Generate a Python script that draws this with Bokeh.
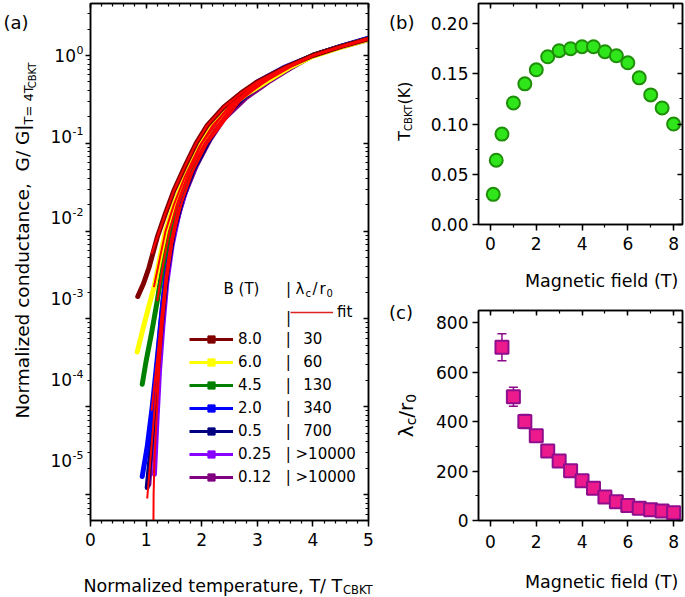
import math
from bokeh.plotting import figure
from bokeh.layouts import row, column
from bokeh.models import (Range1d, LinearAxis, LogAxis, FixedTicker, SingleIntervalTicker,
                          CustomJSTickFormatter, NumeralTickFormatter, Label, Legend, LegendItem)
from bokeh.embed import file_html
from bokeh.resources import INLINE

FONT = "DejaVu Sans"

# ---------------- Panel (a) data: normalized conductance vs T/T_CBKT ----------------
T_80 = [0.85, 0.95, 1.05, 1.2, 1.35, 1.5, 1.7, 1.9, 2.1, 2.4, 2.7, 3.0, 3.5, 4.0, 4.5, 5.0]
G_80 = [1.8e-3, 2.5e-3, 3.8e-3, 8.5e-3, 1.6e-2, 2.9e-2, 5.5e-2, 0.10, 0.16, 0.26, 0.37, 0.50, 0.73, 1.0, 1.26, 1.55]
T_60 = [0.84, 0.95, 1.05, 1.15, 1.25, 1.35, 1.5, 1.7, 1.95, 2.2, 2.5, 2.8, 3.2, 3.6, 4.0, 4.5, 5.0]
G_60 = [4.2e-4, 8.0e-4, 1.4e-3, 2.4e-3, 5.0e-3, 1.0e-2, 2.0e-2, 4.2e-2, 0.09, 0.16, 0.26, 0.36, 0.52, 0.74, 0.98, 1.24, 1.52]
T_45 = [0.93, 1.0, 1.1, 1.2, 1.3, 1.42, 1.55, 1.75, 2.0, 2.25, 2.5, 2.8, 3.2, 3.6, 4.0, 4.5, 5.0]
G_45 = [1.8e-4, 3.3e-4, 7.0e-4, 1.6e-3, 4.0e-3, 1.0e-2, 2.0e-2, 4.4e-2, 0.10, 0.18, 0.27, 0.37, 0.55, 0.77, 1.0, 1.26, 1.55]
T_20 = [0.93, 1.02, 1.11, 1.2, 1.27, 1.35, 1.45, 1.6, 1.8, 2.05, 2.3, 2.6, 3.0, 3.5, 4.0, 4.5, 5.0]
G_20 = [1.6e-5, 3.5e-5, 1.0e-4, 3.5e-4, 1.0e-3, 3.0e-3, 8.0e-3, 2.2e-2, 5.0e-2, 0.10, 0.18, 0.30, 0.50, 0.74, 1.0, 1.27, 1.58]
T_05 = [1.02, 1.08, 1.15, 1.22, 1.3, 1.38, 1.5, 1.65, 1.85, 2.1, 2.35, 2.7, 3.1, 3.5, 4.0, 4.5, 5.0]
G_05 = [1.2e-5, 3.0e-5, 1.0e-4, 3.5e-4, 1.2e-3, 3.5e-3, 1.0e-2, 2.3e-2, 5.0e-2, 0.10, 0.18, 0.31, 0.50, 0.71, 1.0, 1.26, 1.55]
T_025 = [1.15, 1.19, 1.24, 1.3, 1.37, 1.47, 1.6, 1.8, 2.05, 2.3, 2.6, 3.0, 3.5, 4.0, 4.5, 5.0]
G_025 = [1.7e-5, 6.0e-5, 2.5e-4, 8.0e-4, 2.5e-3, 7.0e-3, 1.7e-2, 4.2e-2, 0.09, 0.17, 0.28, 0.46, 0.71, 1.0, 1.27, 1.57]
T_012 = [1.05, 1.1, 1.16, 1.23, 1.3, 1.4, 1.52, 1.68, 1.9, 2.15, 2.4, 2.8, 3.2, 3.6, 4.0, 4.5, 5.0]
G_012 = [1.3e-5, 4.0e-5, 1.5e-4, 5.0e-4, 1.5e-3, 4.5e-3, 1.1e-2, 2.5e-2, 5.5e-2, 0.11, 0.19, 0.33, 0.50, 0.72, 1.0, 1.25, 1.52]

# fits (red lines)
TF_80 = [1.1, 1.2, 1.35, 1.5, 1.7, 1.9, 2.1, 2.4, 2.7, 3.0, 3.5, 4.0, 4.5, 5.0]
GF_80 = [5.5e-3, 8.5e-3, 1.6e-2, 2.9e-2, 5.5e-2, 0.10, 0.16, 0.26, 0.37, 0.50, 0.73, 1.0, 1.26, 1.55]
TF_60 = [1.14, 1.25, 1.35, 1.5, 1.7, 1.95, 2.2, 2.5, 2.8, 3.2, 3.6, 4.0, 4.5, 5.0]
GF_60 = [2.3e-3, 5.0e-3, 1.0e-2, 2.0e-2, 4.2e-2, 0.09, 0.16, 0.26, 0.36, 0.53, 0.74, 0.99, 1.25, 1.53]
TF_45 = [1.2, 1.3, 1.42, 1.55, 1.75, 2.0, 2.5, 3.0, 3.5, 4.0, 4.5, 5.0]
GF_45 = [1.6e-3, 4.0e-3, 1.0e-2, 2.0e-2, 4.4e-2, 0.10, 0.27, 0.47, 0.72, 1.0, 1.26, 1.55]
TF_20 = [1.1, 1.2, 1.27, 1.35, 1.45, 1.6, 1.8, 2.05, 2.6, 3.0, 3.5, 4.0, 4.5, 5.0]
GF_20 = [9.0e-5, 3.5e-4, 1.0e-3, 3.0e-3, 8.0e-3, 2.2e-2, 5.0e-2, 0.10, 0.30, 0.49, 0.73, 1.0, 1.27, 1.57]
TF_05 = [1.02, 1.08, 1.15, 1.22, 1.3, 1.38, 1.5, 1.65, 1.85, 2.1, 2.7, 3.1, 3.5, 4.0, 4.5, 5.0]
GF_05 = [9.0e-6, 2.6e-5, 9.0e-5, 3.3e-4, 1.1e-3, 3.3e-3, 9.5e-3, 2.2e-2, 4.9e-2, 0.10, 0.31, 0.49, 0.71, 1.0, 1.26, 1.55]
TF_BKT = [1.13, 1.135, 1.15, 1.19, 1.24, 1.3, 1.37, 1.47, 1.6, 1.8, 2.05, 2.6, 3.0, 3.5, 4.0, 4.5, 5.0]
GF_BKT = [3.0e-6, 1.0e-5, 2.5e-5, 8.0e-5, 3.0e-4, 9.0e-4, 2.6e-3, 7.2e-3, 1.75e-2, 4.3e-2, 0.092, 0.28, 0.46, 0.71, 1.0, 1.26, 1.56]

B_LABELS = ["8.0", "6.0", "4.5", "2.0", "0.5", "0.25", "0.12"]
LAMBDA_LABELS = ["30", "60", "130", "340", "700", ">10000", ">10000"]
CURVE_COLORS = ["#800000", "#ffff00", "#008000", "#0000ff", "#000080", "#8800ff", "#800080"]
FIT_COLOR = "#ff0000"

# ---------------- Panel (b): T_CBKT vs magnetic field ----------------
B_b = [0.12, 0.25, 0.5, 1.0, 1.5, 2.0, 2.5, 3.0, 3.5, 4.0, 4.5, 5.0, 5.5, 6.0, 6.5, 7.0, 7.5, 8.0]
Tc_b = [0.030, 0.064, 0.090, 0.121, 0.140, 0.154, 0.167, 0.173, 0.175, 0.177, 0.177, 0.172,
        0.168, 0.161, 0.146, 0.129, 0.116, 0.100]

# ---------------- Panel (c): lambda_c / r_0 vs magnetic field ----------------
B_c = [0.5, 1.0, 1.5, 2.0, 2.5, 3.0, 3.5, 4.0, 4.5, 5.0, 5.5, 6.0, 6.5, 7.0, 7.5, 8.0]
lam_c = [700, 500, 400, 342, 281, 240, 201, 161, 130, 95, 76, 61, 49, 43, 38, 31]
lam_err = [55, 38, 28, 22, 15, 12, 10, 9, 8, 7, 6, 6, 5, 5, 5, 5]

NAN = [float("nan")]

# ---------------- frame geometry (page pixels) ----------------
FA = dict(l=90, r=368, t=3, b=520, x0=0.0, x1=5.0, y0=5.06e-6, y1=3.91, log=True)
FB = dict(l=478, r=682, t=3, b=224, x0=-0.525, x1=8.39, y0=0.0, y1=0.22, log=False)
FC = dict(l=478, r=682, t=310, b=520, x0=-0.525, x1=8.39, y0=0.0, y1=848.5, log=False)

W = {' ': .318, '\u00a0': .318, '(': .390, ')': .390, ',': .318, '-': .361, '.': .318, '/': .337,
     '=': .838, '>': .838, '|': .337, 'B': .686, 'C': .698, 'G': .775, 'K': .656, 'M': .863,
     'N': .748, 'T': .611, 'a': .613, 'c': .550, 'd': .635, 'e': .615, 'f': .352, 'g': .635,
     'i': .278, 'l': .278, 'm': .974, 'n': .634, 'o': .612, 'p': .635, 'r': .411, 't': .392,
     'u': .634, 'z': .525, '\u03bb': .592}
for _d in "0123456789":
    W[_d] = .636


def tw(s):
    return sum(W.get(ch, .6) for ch in s)


def frame_y(fr, py):
    t = (fr['b'] - py) / (fr['b'] - fr['t'])
    if fr['log']:
        a, b = math.log10(fr['y0']), math.log10(fr['y1'])
        return 10 ** (a + t * (b - a))
    return fr['y0'] + t * (fr['y1'] - fr['y0'])


def frame_py(fr, yv):
    a, b = math.log10(fr['y0']), math.log10(fr['y1'])
    return fr['b'] - (math.log10(yv) - a) / (b - a) * (fr['b'] - fr['t'])


def put_in_frame(p, fr, px, py, text, size, align="left", baseline="alphabetic"):
    x = fr['x0'] + (px - fr['l']) / (fr['r'] - fr['l']) * (fr['x1'] - fr['x0'])
    p.add_layout(Label(x=x, y=frame_y(fr, py), text=text, text_font=FONT,
                       text_font_size=f"{size}px", text_align=align, text_baseline=baseline,
                       text_color="#000000"))


# --------- text panels: small figures whose frame is their whole canvas ---------
def text_fig(x0, y0, w, h):
    p = figure(width=w, height=h, x_range=Range1d(0, w), y_range=Range1d(0, h),
               output_backend="svg", toolbar_location=None, min_border=0,
               x_axis_location=None, y_axis_location=None)
    p.grid.visible = False
    p.outline_line_color = None
    p.background_fill_color = "#ffffff"
    p.border_fill_color = "#ffffff"
    p._page = (x0, y0, w, h)
    return p


def put(tf, px, py, text, size, align="left", baseline="alphabetic", angle=0.0):
    x0, y0, w, h = tf._page
    tf.add_layout(Label(x=px - x0, y=(y0 + h) - py, text=text, text_font=FONT,
                        text_font_size=f"{size}px", text_align=align, text_baseline=baseline,
                        angle=angle, text_color="#000000"))


def hrun(tf, px, py, pieces):
    x = px
    for text, size, dy in pieces:
        put(tf, x, py + dy, text, size)
        x += tw(text) * size


def vrun(tf, bx, py_start, pieces):
    y = py_start
    for text, size, dx in pieces:
        put(tf, bx + dx, y, text, size, angle=math.pi / 2)
        y -= tw(text) * size


def vrun_center(tf, bx, py_center, pieces):
    total = sum(tw(t) * s for t, s, _ in pieces)
    vrun(tf, bx, py_center + total / 2, pieces)


BLANK = CustomJSTickFormatter(code="return ''")


def style(ax, ticker, fmt, t_in, t_out, m_in, m_out, standoff=6, mirror=False):
    ax.ticker = ticker
    ax.formatter = fmt
    ax.major_tick_in = t_in
    ax.major_tick_out = t_out
    ax.minor_tick_in = m_in
    ax.minor_tick_out = m_out
    ax.axis_line_width = 1.5
    ax.axis_line_color = "#000000"
    ax.major_tick_line_width = 1.5
    ax.minor_tick_line_width = 1.2
    ax.major_tick_line_color = "#000000"
    ax.minor_tick_line_color = "#000000"
    ax.major_label_text_font = FONT
    ax.major_label_text_font_size = "0px" if mirror else "17px"
    ax.major_label_text_color = "#000000"
    ax.major_label_standoff = 0 if mirror else standoff


def make_fig(width, height, fr, bl, br, bt, bb):
    p = figure(width=width, height=height,
               x_range=Range1d(fr['x0'], fr['x1']), y_range=Range1d(fr['y0'], fr['y1']),
               y_axis_type="log" if fr['log'] else "linear",
               output_backend="svg", toolbar_location=None,
               min_border_left=bl, min_border_right=br, min_border_top=bt, min_border_bottom=bb)
    p.grid.visible = False
    p.outline_line_color = "#000000"
    p.outline_line_width = 1.5
    p.background_fill_color = "#ffffff"
    p.border_fill_color = "#ffffff"
    return p


# ================= Panel (a) =================
pa = make_fig(304, 560, FA, 6, 20, 3, 40)
x_tick_a = SingleIntervalTicker(interval=1, num_minor_ticks=5)
decades = [10.0 ** k for k in range(-5, 1)]
minors = [m * 10.0 ** k for k in range(-6, 1) for m in range(2, 10)]
y_tick_a = FixedTicker(ticks=decades, minor_ticks=minors)
style(pa.xaxis[0], x_tick_a, pa.xaxis[0].formatter, 0, 6, 0, 3, standoff=6)
style(pa.yaxis[0], y_tick_a, BLANK, 0, 5, 0, 3, standoff=0)
pa.yaxis[0].major_label_text_font_size = "0px"
top_a = LinearAxis()
style(top_a, x_tick_a, BLANK, 5, 0, 3, 0, mirror=True)
pa.add_layout(top_a, "above")
right_a = LogAxis()
style(right_a, y_tick_a, BLANK, 5, 0, 3, 0, mirror=True)
pa.add_layout(right_a, "right")

curves = [(T_012, G_012, CURVE_COLORS[6]), (T_025, G_025, CURVE_COLORS[5]),
          (T_05, G_05, CURVE_COLORS[4]), (T_20, G_20, CURVE_COLORS[3]),
          (T_45, G_45, CURVE_COLORS[2]), (T_60, G_60, CURVE_COLORS[1]),
          (T_80, G_80, CURVE_COLORS[0])]
for T, G, c in curves:
    pa.line(T, G, line_color=c, line_width=5, line_join="round", line_cap="round")
for T, G in [(TF_BKT, GF_BKT), (TF_05, GF_05), (TF_20, GF_20), (TF_45, GF_45),
             (TF_60, GF_60), (TF_80, GF_80)]:
    pa.line(T, G, line_color=FIT_COLOR, line_width=2)

# legend (sample renderers hold a single NaN so nothing is drawn in the plot)
NB = "\u00a0"
items = []
for b, lam, c in zip(B_LABELS, LAMBDA_LABELS, CURVE_COLORS):
    lr = pa.line(NAN, NAN, line_color=c, line_width=3)
    sr = pa.scatter(NAN, NAN, marker="square", size=6, fill_color=c, line_color=c)
    n1 = 5 if len(b) == 3 else 3
    gap = NB if lam.startswith(">") else NB + NB + "\u2009"
    items.append(LegendItem(label=f"{b}{NB * n1}|{gap}{lam}", renderers=[lr, sr]))
leg = Legend(items=items, location=(99, 34), orientation="vertical", padding=0, margin=0,
             spacing=5, glyph_width=44, glyph_height=18, label_height=18, label_standoff=5,
             label_text_font=FONT, label_text_font_size="15px", label_text_color="#000000",
             border_line_color=None, background_fill_alpha=0)
pa.add_layout(leg)
fit_r = pa.line(NAN, NAN, line_color="#dd2222", line_width=1.5)
leg_fit = Legend(items=[LegendItem(label="fit", renderers=[fit_r])], location=(200, 199),
                 padding=0, margin=0, spacing=0, glyph_width=43, glyph_height=18, label_height=18,
                 label_standoff=4, label_text_font=FONT, label_text_font_size="15px",
                 label_text_color="#000000", border_line_color=None, background_fill_alpha=0)
pa.add_layout(leg_fit)

put_in_frame(pa, FA, 223, 288.5, "B (T)", 15)
put_in_frame(pa, FA, 288, 288.5, "|", 15, align="center")
put_in_frame(pa, FA, 295, 288.5, "\u03bb", 15)
put_in_frame(pa, FA, 305, 292.5, "c", 10)
put_in_frame(pa, FA, 312, 288.5, "/", 15)
put_in_frame(pa, FA, 319, 288.5, "r", 15)
put_in_frame(pa, FA, 326, 292.5, "0", 10)
put_in_frame(pa, FA, 288, 317.5, "|", 15, align="center")

# text panels for (a)
ya = text_fig(0, 0, 84, 560)
put(ya, 3, 21, "(a)", 18)
for k in range(-5, 1):
    py = frame_py(FA, 10.0 ** k)
    ex = str(k)
    ew = tw(ex) * 11
    put(ya, 83, py - 5, ex, 11, align="right", baseline="middle")
    put(ya, 83 - ew - 0.5, py + 1, "10", 17, align="right", baseline="middle")
# main part ends at the junction J; subscripts start there
J = 131
put(ya, 22, J, "Normalized conductance,\u00a0 G/ G|", 18.5, align="right", angle=math.pi / 2)
vrun(ya, 22, J, [("T=\u00a04T", 13, 6), ("CBKT", 10, 10)])
xa = text_fig(0, 560, 388, 37)
hrun(xa, 83, 585, [("Normalized temperature, T/ T", 17.5, 0), ("CBKT", 11.5, 4)])

# ================= Panel (b) =================
pb = make_fig(265, 262, FB, 58, 3, 3, 38)
x_tick_bc = SingleIntervalTicker(interval=2, num_minor_ticks=2)
y_tick_b = SingleIntervalTicker(interval=0.05, num_minor_ticks=2)
style(pb.xaxis[0], x_tick_bc, pb.xaxis[0].formatter, 0, 6, 0, 3, standoff=6)
style(pb.yaxis[0], y_tick_b, NumeralTickFormatter(format="0.00"), 0, 6, 0, 3, standoff=4)
top_b = LinearAxis()
style(top_b, x_tick_bc, BLANK, 5, 0, 3, 0, mirror=True)
pb.add_layout(top_b, "above")
right_b = LinearAxis()
style(right_b, y_tick_b, BLANK, 5, 0, 3, 0, mirror=True)
pb.add_layout(right_b, "right")
pb.scatter(B_b, Tc_b, marker="circle", size=13, fill_color="#2ee61a", line_color="#1f8f0a", line_width=2)

yb = text_fig(388, 0, 32, 300)
put(yb, 388.5, 22, "(b)", 18)
vrun_center(yb, 404, 108, [("T", 16, 0), ("CBKT", 10, 4), (" (K)", 16, 0)])
xb = text_fig(420, 262, 265, 38)
put(xb, 580, 280, "Magnetic field (T)", 17.5, align="center")

# ================= Panel (c) =================
pc = make_fig(265, 260, FC, 58, 3, 10, 40)
y_tick_c = SingleIntervalTicker(interval=200, num_minor_ticks=2)
style(pc.xaxis[0], x_tick_bc, pc.xaxis[0].formatter, 0, 6, 0, 3, standoff=8)
style(pc.yaxis[0], y_tick_c, pc.yaxis[0].formatter, 0, 6, 0, 3, standoff=4)
top_c = LinearAxis()
style(top_c, x_tick_bc, BLANK, 5, 0, 3, 0, mirror=True)
pc.add_layout(top_c, "above")
right_c = LinearAxis()
style(right_c, y_tick_c, BLANK, 5, 0, 3, 0, mirror=True)
pc.add_layout(right_c, "right")
lo = [v - e for v, e in zip(lam_c, lam_err)]
hi = [v + e for v, e in zip(lam_c, lam_err)]
ERR_COLOR = "#8a0a8a"
pc.segment(x0=B_c, y0=lo, x1=B_c, y1=hi, line_color=ERR_COLOR, line_width=1.5)
pc.scatter(B_c, hi, marker="dash", size=9, line_color=ERR_COLOR, line_width=1.5)
pc.scatter(B_c, lo, marker="dash", size=9, line_color=ERR_COLOR, line_width=1.5)
pc.scatter(B_c, lam_c, marker="square", size=13, fill_color="#ec1a8c", line_color="#8e0e8e", line_width=2)

yc = text_fig(388, 300, 32, 297)
put(yc, 388.5, 312, "(c)", 18)
vrun_center(yc, 405, 415, [("\u03bb", 20, 0), ("c", 14, 5), ("/r", 20, 0), ("0", 14, 5)])
xc = text_fig(420, 560, 265, 37)
put(xc, 580, 581, "Magnetic field (T)", 17.5, align="center")

left = column(row(ya, pa), xa)
right = column(row(yb, column(pb, xb)), row(yc, column(pc, xc)))
layout = row(left, right)
open("out.html", "w").write(file_html(layout, INLINE))
